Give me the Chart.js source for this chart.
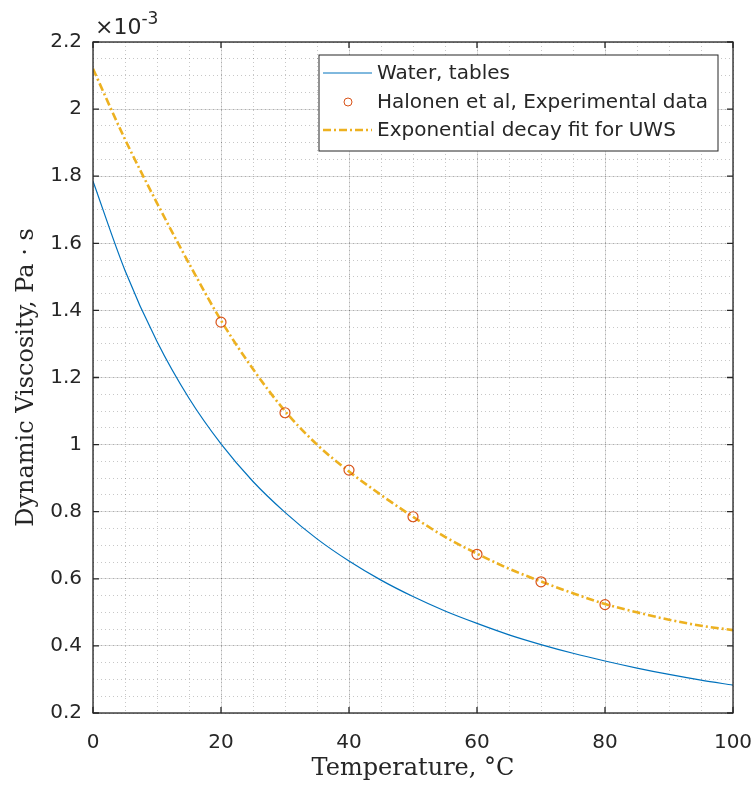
<!DOCTYPE html>
<html>
<head>
<meta charset="utf-8">
<script src="https://cdn.jsdelivr.net/npm/chart.js@4.4.1/dist/chart.umd.min.js"></script>
<style>
  html, body { margin: 0; padding: 0; background: #fff; }
  #wrap { width: 756px; height: 793px; }
</style>
</head>
<body>
<div id="wrap"><canvas id="visc" width="756" height="793"></canvas></div>
<script>
// viscosity values in units of 1e-3 Pa s
const waterTemp = [0, 5, 10, 15, 20, 25, 30, 35, 40, 45, 50, 55, 60, 65, 70, 75, 80, 85, 90, 95, 100];
const waterVisc = [1.785, 1.519, 1.307, 1.138, 1.002, 0.890, 0.798, 0.719, 0.653, 0.596, 0.547,
                   0.504, 0.467, 0.433, 0.404, 0.378, 0.355, 0.334, 0.315, 0.298, 0.283];
const expTemp = [20, 30, 40, 50, 60, 70, 80];
const expVisc = [1.365, 1.095, 0.924, 0.785, 0.673, 0.591, 0.523];
const fitTemp = [0, 5, 10, 15, 20, 25, 30, 35, 40, 45, 50, 55, 60, 65, 70, 75, 80, 85, 90, 95, 100];
const fitVisc = [2.12, 1.91, 1.72, 1.54, 1.37, 1.225, 1.10, 1.00, 0.92, 0.85, 0.785,
                 0.725, 0.675, 0.63, 0.592, 0.557, 0.525, 0.50, 0.478, 0.46, 0.447];
const xTicks = [0, 20, 40, 60, 80, 100];
const yTicks = [0.2, 0.4, 0.6, 0.8, 1, 1.2, 1.4, 1.6, 1.8, 2, 2.2];
const seriesNames = ['Water, tables', 'Halonen et al, Experimental data', 'Exponential decay fit for UWS'];

const BLUE = '#0072BD', ORANGE = '#D95319', YELLOW = '#EDB120', INK = '#262626';
const SANS = '"DejaVu Sans", sans-serif';
const SERIF = '"DejaVu Serif", serif';

function pts(xs, ys) { return xs.map((x, i) => ({ x: x, y: ys[i] })); }

// box, inward ticks, exponent label and legend (matlab style)
const matlabBits = {
  id: 'matlabBits',
  afterDatasetsDraw(chart) {
    const ctx = chart.ctx, a = chart.chartArea;
    const sx = chart.scales.x, sy = chart.scales.y;
    ctx.save();
    ctx.strokeStyle = INK;
    ctx.lineWidth = 1.3;
    ctx.strokeRect(a.left, a.top, a.right - a.left, a.bottom - a.top);
    ctx.beginPath();
    xTicks.forEach(v => {
      const px = sx.getPixelForValue(v);
      ctx.moveTo(px, a.bottom); ctx.lineTo(px, a.bottom - 6);
      ctx.moveTo(px, a.top); ctx.lineTo(px, a.top + 6);
    });
    yTicks.forEach(v => {
      const py = sy.getPixelForValue(v);
      ctx.moveTo(a.left, py); ctx.lineTo(a.left + 6, py);
      ctx.moveTo(a.right, py); ctx.lineTo(a.right - 6, py);
    });
    ctx.stroke();

    // x10^-3
    ctx.fillStyle = INK;
    ctx.textBaseline = 'alphabetic';
    ctx.textAlign = 'left';
    ctx.font = '22px ' + SANS;
    ctx.fillText('\u00d710', 95, 34);
    const w = ctx.measureText('\u00d710').width;
    ctx.font = '17px ' + SANS;
    ctx.fillText('-3', 95 + w, 24);

    // legend
    const lx = 319, ly = 55, lw = 399, lh = 96;
    ctx.fillStyle = '#fff';
    ctx.fillRect(lx, ly, lw, lh);
    ctx.strokeStyle = INK;
    ctx.lineWidth = 1;
    ctx.strokeRect(lx, ly, lw, lh);
    const rows = [73, 102, 130];
    ctx.font = '20px ' + SANS;
    ctx.textBaseline = 'middle';
    seriesNames.forEach((name, i) => {
      const y = rows[i];
      if (i === 0) {
        ctx.strokeStyle = BLUE; ctx.lineWidth = 1; ctx.setLineDash([]);
        ctx.beginPath(); ctx.moveTo(323, y); ctx.lineTo(372, y); ctx.stroke();
      } else if (i === 1) {
        ctx.strokeStyle = ORANGE; ctx.lineWidth = 1; ctx.setLineDash([]);
        ctx.beginPath(); ctx.arc(348, y, 4, 0, Math.PI * 2); ctx.stroke();
      } else {
        ctx.strokeStyle = YELLOW; ctx.lineWidth = 2.5; ctx.setLineDash([8, 3, 2, 3]);
        ctx.beginPath(); ctx.moveTo(323, y); ctx.lineTo(372, y); ctx.stroke();
        ctx.setLineDash([]);
      }
      ctx.fillStyle = INK;
      ctx.fillText(name, 377, y + 1);
    });
    ctx.restore();
  }
};

new Chart(document.getElementById('visc'), {
  type: 'line',
  data: {
    datasets: [
      {
        label: seriesNames[1],
        data: pts(expTemp, expVisc),
        showLine: false,
        borderColor: ORANGE,
        backgroundColor: 'rgba(0,0,0,0)',
        pointStyle: 'circle',
        pointRadius: 5,
        pointBorderWidth: 1.2,
        pointBorderColor: ORANGE,
        pointBackgroundColor: 'rgba(0,0,0,0)',
        order: 0
      },
      {
        label: seriesNames[0],
        data: pts(waterTemp, waterVisc),
        borderColor: BLUE,
        borderWidth: 1.2,
        pointRadius: 0,
        cubicInterpolationMode: 'monotone',
        fill: false,
        order: 2
      },
      {
        label: seriesNames[2],
        data: pts(fitTemp, fitVisc),
        borderColor: YELLOW,
        borderWidth: 2.6,
        borderDash: [8, 3, 2, 3],
        pointRadius: 0,
        cubicInterpolationMode: 'monotone',
        fill: false,
        order: 1
      }
    ]
  },
  options: {
    responsive: false,
    animation: false,
    layout: { padding: { left: 0, right: 23, top: 42, bottom: 0 } },
    plugins: { legend: { display: false }, tooltip: { enabled: false } },
    scales: {
      x: {
        type: 'linear', min: 0, max: 100,
        afterBuildTicks: s => { s.ticks = xTicks.map(v => ({ value: v })); },
        ticks: { color: INK, font: { family: SANS, size: 20 }, padding: 18, maxRotation: 0 },
        grid: { color: 'rgba(0,0,0,0.13)', lineWidth: 1, drawTicks: false },
        border: { display: false },
        title: { display: true, text: 'Temperature, \u00b0C', color: INK,
                 font: { family: SERIF, size: 24 }, padding: { top: 0, bottom: 10 } },
        afterFit: s => { s.height = 80; s.paddingLeft = 0; s.paddingRight = 0; }
      },
      y: {
        type: 'linear', min: 0.2, max: 2.2,
        afterBuildTicks: s => { s.ticks = yTicks.map(v => ({ value: v })); },
        ticks: { color: INK, font: { family: SANS, size: 20 }, padding: 11,
                 callback: v => String(+v.toFixed(1)) },
        grid: { color: 'rgba(0,0,0,0.13)', lineWidth: 1, drawTicks: false },
        border: { display: false },
        title: { display: true, text: 'Dynamic Viscosity, Pa \u00b7 s', color: INK,
                 font: { family: SERIF, size: 24 }, padding: { top: 12, bottom: 0 } },
        afterFit: s => { s.width = 93; s.paddingTop = 0; s.paddingBottom = 0; }
      },
      // minor grid
      x2: {
        type: 'linear', position: 'bottom', min: 0, max: 100,
        ticks: { display: false, stepSize: 5 },
        grid: { color: 'rgba(0,0,0,0.22)', lineWidth: 1, drawTicks: false },
        border: { display: false, dash: [1, 3] },
        afterFit: s => { s.height = 0; s.paddingLeft = 0; s.paddingRight = 0; }
      },
      y2: {
        type: 'linear', position: 'left', min: 0.2, max: 2.2,
        ticks: { display: false, stepSize: 0.05 },
        grid: { color: 'rgba(0,0,0,0.22)', lineWidth: 1, drawTicks: false },
        border: { display: false, dash: [1, 3] },
        afterFit: s => { s.width = 0; s.paddingTop = 0; s.paddingBottom = 0; }
      }
    }
  },
  plugins: [matlabBits]
});
</script>
</body>
</html>
